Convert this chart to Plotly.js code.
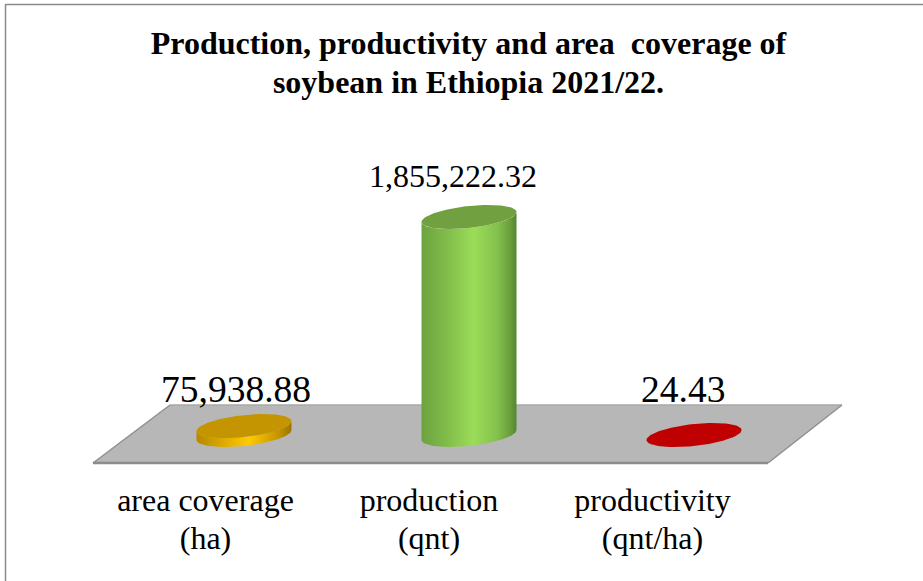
<!DOCTYPE html>
<html>
<head>
<meta charset="utf-8">
<script src="https://cdn.plot.ly/plotly-3.0.1.min.js"></script>
<style>html,body{margin:0;padding:0;background:#fff}#chart{width:923px;height:581px}</style>
</head>
<body>
<div id="chart"></div>
<script>
// Soybean figures for Ethiopia, 2021/22
const categories = ['area coverage<br>(ha)', 'production<br>(qnt)', 'productivity<br>(qnt/ha)'];
const values = [75938.88, 1855222.32, 24.43];
const bodyColors = [
  [[0, '#b58800'], [0.18, '#cf9e00'], [0.55, '#ffca00'], [0.85, '#c79700'], [1, '#9c7400']],
  [[0, '#6ca33e'], [0.25, '#7fba4a'], [0.55, '#9bdd58'], [0.8, '#84c04d'], [0.93, '#6a9f3c'], [1, '#558531']],
  [[0, '#a00000'], [0.55, '#e00000'], [1, '#900000']]
];
const topColors = ['#c49500', '#70a03f', '#c00000'];

// Axis scales: one category step and the value height, both in screen pixels
const W = 923, H = 581, plotBottom = 470;
const stepPx = 225, firstCenterPx = 244, baselinePx = 435;
const labelStepPx = 223.5, labelOffsetPx = -38.5;
const unitsPerPx = Math.max(...values) / 218;
const xRange = [-firstCenterPx / stepPx, (W - firstCenterPx) / stepPx];
const yRange = [(baselinePx - plotBottom) * unitsPerPx, baselinePx * unitsPerPx];

// Cylinder cross-section, a sheared ellipse (pixel sizes)
const halfWidth = 47.5, halfDepth = 11, shear = -5 / 47.5;
function ellipsePoint(i, base, t) {
  const dx = halfWidth * Math.cos(t);
  const dy = halfDepth * Math.sin(t) + shear * dx;
  return [i + dx / stepPx, base - dy * unitsPerPx];
}
function arc(i, base, from, to, n) {
  const pts = [];
  for (let k = 0; k <= n; k++) pts.push(ellipsePoint(i, base, from + (to - from) * k / n));
  return pts;
}
function polyTrace(pts, extra) {
  return Object.assign({
    type: 'scatter', mode: 'lines', fill: 'toself', hoverinfo: 'skip', showlegend: false,
    x: pts.map(p => p[0]), y: pts.map(p => p[1]), line: {width: 0}
  }, extra);
}

const traces = [];
values.forEach((v, i) => {
  // Side wall: front half of the base, then back across the top at the value's height
  const wall = [...arc(i, 0, 0, Math.PI, 60), ...arc(i, v, Math.PI, 0, 60)];
  wall.push(wall[0]);
  traces.push(polyTrace(wall, {
    fillgradient: {type: 'horizontal', colorscale: bodyColors[i]}
  }));
  traces.push(polyTrace(arc(i, v, 0, 2 * Math.PI, 120), {fillcolor: topColors[i]}));
});

// Value labels
const labelCenters = [[235.5, 389], [452.5, 176], [682.5, 389]];
const labelSizes = [37.5, 32, 37.5];
const annotations = values.map((v, i) => ({
  xref: 'paper', yref: 'paper',
  x: labelCenters[i][0] / W, y: (plotBottom - labelCenters[i][1]) / plotBottom,
  xanchor: 'center', yanchor: 'middle', showarrow: false,
  text: v.toLocaleString('en-US', {minimumFractionDigits: 2, maximumFractionDigits: 2}),
  font: {family: 'Liberation Serif', size: labelSizes[i], color: '#000'}
}));

// Paper references measured in pixels from the top left of the page
const px = x => (x / W).toFixed(5);
const py = y => ((plotBottom - y) / plotBottom).toFixed(5);
const line = (x0, y0, x1, y1, color, width) => ({
  type: 'line', xref: 'paper', yref: 'paper', layer: 'below',
  x0: px(x0), y0: py(y0), x1: px(x1), y1: py(y1), line: {color, width}
});
const floor = {
  type: 'path', xref: 'paper', yref: 'paper', layer: 'below',
  path: `M${px(93)},${py(463)} L${px(768)},${py(463)} L${px(842)},${py(405)} L${px(170)},${py(405)} Z`,
  fillcolor: '#b7b7b7', line: {width: 0}
};
const shapes = [
  floor,
  line(170, 405, 842, 405, '#a8a8a8', 1.5),
  line(93, 463, 170, 405, '#909090', 1.5),
  line(768, 463, 842, 405, '#909090', 1.5),
  line(93, 463, 768, 463, '#8c8c8c', 2.5),
  line(5.5, 4.5, 923, 4.5, '#8a8a8a', 1.5),
  line(5.5, 4, 5.5, 581, '#8a8a8a', 1.5)
];

const layout = {
  width: W, height: H,
  margin: {l: 0, r: 0, t: 0, b: H - plotBottom, pad: 0},
  paper_bgcolor: '#fff', plot_bgcolor: 'rgba(0,0,0,0)',
  showlegend: false, hovermode: false,
  title: {
    text: 'Production, productivity and area\u00a0 coverage of<br>soybean in Ethiopia 2021/22.',
    font: {family: 'Liberation Serif', size: 32, color: '#000', weight: 700},
    x: 468.5 / W, xref: 'paper', xanchor: 'center',
    y: 1 - 54 / H, yref: 'container', yanchor: 'top'
  },
  xaxis: {
    range: xRange, tickmode: 'array',
    tickvals: categories.map((_, i) => (labelOffsetPx + i * labelStepPx) / stepPx), ticktext: categories,
    showgrid: false, zeroline: false, showline: false, ticks: '',
    ticklabelstandoff: 8,
    tickfont: {family: 'Liberation Serif', size: 32, color: '#000'}
  },
  yaxis: {range: yRange, visible: false, showgrid: false, zeroline: false},
  shapes, annotations
};

// Tighter line spacing for the two-line title and axis labels
function tightenLines() {
  const chart = document.getElementById('chart');
  chart.querySelectorAll('.gtitle tspan.line').forEach((t, k) => { if (k > 0) t.setAttribute('dy', '1.22em'); });
  chart.querySelectorAll('.xtick tspan.line').forEach(t => {
    if (parseFloat(t.getAttribute('dy')) > 0) t.setAttribute('dy', '1.19em');
  });
}

Plotly.newPlot('chart', traces, layout, {displayModeBar: false, staticPlot: true}).then(tightenLines);
</script>
</body>
</html>
